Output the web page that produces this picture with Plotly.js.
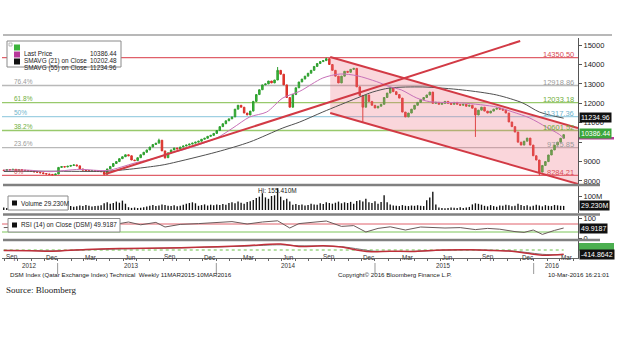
<!DOCTYPE html>
<html><head><meta charset="utf-8">
<script src="https://cdn.plot.ly/plotly-3.0.1.min.js"></script>
<style>html,body{margin:0;padding:0;background:#fff}#chart{width:620px;height:355px}</style>
</head><body><div id="chart"></div>
<script>
// ---------------- data ----------------
const firstWeek = Date.UTC(2012, 7, 30); // weekly bars, last one 10-Mar-2016
const openPx = [8560,8540,8590,8570,8600,8550,8580,8560,8540,8520,
 8500,8470,8450,8420,8380,8360,8340,8320,8360,8700,
 8740,8720,8760,8800,8830,8780,8620,8560,8540,8520,
 8530,8510,8500,8480,8350,8620,8750,8900,9000,9150,
 9250,9350,9300,9080,9050,9200,9350,9480,9600,9750,
 9880,9950,10100,9550,9200,9450,9600,9700,9650,9750,
 9800,9850,9900,9950,10000,10050,10150,10200,10300,10350,
 10450,10600,10800,10950,11100,11200,11300,11700,11900,11800,
 11500,11400,11600,12100,12450,12700,12950,13000,13150,13050,
 13200,13700,13500,12950,12300,11800,12450,12800,13100,13250,
 13400,13550,13700,13900,14050,14150,14200,14300,14000,13700,
 13400,13050,13400,13650,13600,13750,13800,12850,12400,11800,
 12430,12100,11900,11760,11850,11950,12300,12530,12790,12600,
 12450,12270,11550,11300,11500,11700,11900,12050,12200,12300,
 12430,12580,12000,12050,11950,12000,12100,12000,11950,12050,
 11950,11900,11950,11850,11900,11750,11400,11650,11800,11600,
 11500,11600,11700,11750,11700,11650,11500,11040,10800,10520,
 10000,9850,10050,10210,9850,9300,9080,8460,8800,9000,
 9340,9600,9850,10000,10200];
const closePx = [8540,8590,8570,8600,8550,8580,8560,8540,8520,8500,
 8470,8450,8420,8380,8360,8340,8320,8360,8700,8740,
 8720,8760,8800,8830,8780,8620,8560,8540,8520,8530,
 8510,8500,8480,8350,8620,8750,8900,9000,9150,9250,
 9350,9300,9080,9050,9200,9350,9480,9600,9750,9880,
 9950,10100,9550,9200,9450,9600,9700,9650,9750,9800,
 9850,9900,9950,10000,10050,10150,10200,10300,10350,10450,
 10600,10800,10950,11100,11200,11300,11700,11900,11800,11500,
 11400,11600,12100,12450,12700,12950,13000,13150,13050,13200,
 13700,13500,12950,12300,11800,12450,12800,13100,13250,13400,
 13550,13700,13900,14050,14150,14200,14300,14000,13700,13400,
 13050,13400,13650,13600,13750,13800,12850,12400,11800,12430,
 12100,11900,11760,11850,11950,12300,12530,12790,12600,12450,
 12270,11550,11300,11500,11700,11900,12050,12200,12300,12430,
 12580,12000,12050,11950,12000,12100,12000,11950,12050,11950,
 11900,11950,11850,11900,11750,11400,11650,11800,11600,11500,
 11600,11700,11750,11700,11650,11500,11040,10800,10520,10000,
 9850,10050,10210,9850,9300,9080,8460,8800,9000,9340,
 9600,9850,10000,10200,10386.44];
// notable wicks [week index, price]
const highWicks = [[90, 13870], [106, 14350.5], [51, 10180]];
const lowWicks = [[33, 8290], [53, 9150], [118, 11040], [155, 10270], [176, 8284.21]];
const volumeM = [18,14,20,16,22,17,19,15,21,
 18,16,20,22,17,19,24,18,20,26,
 22,25,30,28,24,26,32,28,35,30,
 25,28,30,34,48,55,45,50,60,52,
 67,45,20,15,18,14,16,20,25,30,
 35,28,32,40,36,30,28,34,26,30,
 38,45,50,55,48,30,35,40,32,38,
 34,40,36,42,38,50,55,48,60,52,
 45,58,62,72,85,95,120,90,80,100,
 105,155.41,95,70,80,60,38,42,35,40,
 32,36,45,40,38,48,42,55,50,45,
 52,60,48,55,50,58,45,65,70,60,
 80,55,50,62,45,58,105,55,40,32,
 30,28,35,30,28,32,30,34,30,28,
 70,90,130,40,18,15,12,14,18,16,
 14,20,15,17,22,40,48,44,38,30,
 26,35,28,24,32,30,38,34,26,30,
 45,36,28,34,25,30,38,32,26,35,
 30,28,36,33,30,29.23];
const sma21Dates = ["2012-08-30","2012-10-25","2012-12-14","2013-02-21","2013-04-25","2013-06-28","2013-08-24","2013-09-16","2013-10-16","2014-01-02","2014-02-08","2014-03-19","2014-04-27","2014-06-03","2014-07-12","2014-09-03","2014-10-13","2014-11-21","2015-01-05","2015-02-04","2015-03-03","2015-04-07","2015-05-07","2015-07-22","2015-10-08","2015-11-14","2015-12-23","2016-01-30","2016-02-29","2016-03-10"];
const sma21Values = [8560,8560,8480,8600,8540,8930,9240,9440,9600,10215,10730,11300,11554,12275,12620,13305,13510,13420,13115,12857,12687,12275,12085,12017,11810,11554,11245,10780,10400,10202.48];
const sma55Dates = ["2012-08-30","2012-12-14","2013-05-01","2013-08-24","2013-09-16","2014-01-02","2014-03-19","2014-06-03","2014-07-12","2014-09-03","2014-11-21","2014-12-27","2015-02-04","2015-04-21","2015-07-22","2015-10-08","2015-12-07","2016-01-14","2016-03-10"];
const sma55Values = [8490,8505,8515,8800,8900,9494,10009,10730,11039,11554,12275,12584,12790,12842,12687,12430,12017,11554,11234.96];
const rsiDates = ["2012-08-30","2012-10-04","2012-11-08","2012-12-13","2013-01-10","2013-02-14","2013-03-21","2013-04-25","2013-05-23","2013-06-13","2013-07-11","2013-08-15","2013-09-05","2013-10-10","2013-11-21","2013-12-26","2014-02-06","2014-03-13","2014-04-17","2014-05-22","2014-06-19","2014-07-10","2014-08-14","2014-09-11","2014-10-16","2014-11-13","2014-12-11","2015-01-08","2015-02-05","2015-03-12","2015-04-16","2015-05-14","2015-06-11","2015-07-16","2015-08-20","2015-09-17","2015-10-15","2015-11-19","2015-12-10","2015-12-31","2016-01-21","2016-02-18","2016-03-10"];
const rsiValues = [52,55,45,38,62,64,48,42,72,80,66,78,55,68,72,75,82,70,80,86,50,72,80,85,58,62,30,48,56,40,55,52,50,52,42,48,44,32,28,40,18,38,49.9187];
const macdDates = ["2012-08-30","2012-11-01","2012-12-20","2013-03-07","2013-06-06","2013-09-05","2013-12-05","2014-03-06","2014-05-29","2014-07-10","2014-09-04","2014-10-16","2014-11-27","2014-12-25","2015-02-05","2015-03-26","2015-06-04","2015-08-13","2015-10-01","2015-11-12","2015-12-17","2016-01-21","2016-03-10"];
const macdValues = [-50,-80,-120,60,150,200,300,420,600,350,420,300,-50,-180,-120,-150,0,20,-60,-120,-330,-520,-414.8642];
const signalValues = [-30,-60,-90,20,120,180,270,380,520,420,400,330,80,-100,-150,-140,-30,10,-30,-100,-250,-430,-480];
const fibLevels = [14350.50, 12918.86, 12033.18, 11317.36, 10601.52, 9715.85, 8284.21];
const fibValueText = ["14350.50","12918.86","12033.18","11317.36","10601.52","9715.85","8284.21"];
const fibPctText = ["", "76.4%", "61.8%", "50%", "38.2%", "23.6%", "0%"];
const trendDates = ["2013-04-21", "2015-12-01"];
const trendValues = [8361, 15210];
const channelDates = ["2014-09-20", "2016-04-12"];
const channelTop = [14386, 10730];
const channelBottom = [11502, 7846];
const priceTicks = [8000, 9000, 10000, 11000, 12000, 13000, 14000, 15000];
const priceTickText = ["8000", "9000", "", "11000", "12000", "13000", "14000", "15000"]; // 10000 is hidden under the value boxes
const monthLabels = ["Sep","Dec","Mar","Jun","Sep","Dec","Mar","Jun","Sep","Dec","Mar","Jun","Sep","Dec","Mar"];
const monthTickDates = ["2012-09-17","2012-12-17","2013-03-17","2013-06-17","2013-09-17","2013-12-17","2014-03-17","2014-06-17","2014-09-17","2014-12-17","2015-03-17","2015-06-17","2015-09-17","2015-12-17","2016-03-17"];
const yearLabels = ["2012","2013","2014","2015","2016"];
const yearLabelAt = ["2012-10-29","2013-06-19","2014-06-15","2015-06-08","2016-02-14"];
const yearStarts = ["2013-01-01","2014-01-01","2015-01-01","2016-01-01"];
const lastPrice = 10386.44, sma21Last = 10202.48, sma55Last = 11234.96;
const volumeLast = 29.23, rsiLast = 49.9187, macdLast = -414.8642, volumeHigh = 155.41;

// ---------------- styling / geometry ----------------
const W = 620, H = 355;
const px = x => x / W, py = y => 1 - y / H;
const FONT = "Liberation Sans, Arial, sans-serif";
const fibColors = ["#e0606a","#b9b9b9","#98c96c","#9fd0e2","#98c96c","#b9b9b9","#e0606a"];
const fibTextColors = ["#d84a55","#9a9a9a","#6fae3c","#6fb4cc","#6fae3c","#9a9a9a","#d84a55"];
const RED = "#d23a45";

const weeks = openPx.map((_, i) => new Date(firstWeek + i * 7 * 864e5).toISOString().slice(0, 10));
const highPx = openPx.map((o, i) => Math.max(o, closePx[i]));
const lowPx = openPx.map((o, i) => Math.min(o, closePx[i]));
highWicks.forEach(([i, v]) => highPx[i] = v);
lowWicks.forEach(([i, v]) => lowPx[i] = v);

const traces = [
  {type:'scatter', mode:'lines', x:[channelDates[0], channelDates[1], channelDates[1], channelDates[0]],
   y:[channelTop[0], channelTop[1], channelBottom[1], channelBottom[0]], fill:'toself',
   fillcolor:'rgba(240,120,135,0.30)', line:{width:0}, xaxis:'x', yaxis:'y', hoverinfo:'skip'},
  {type:'scatter', mode:'lines', x:sma55Dates, y:sma55Values, line:{color:'#505050', width:1, shape:'spline', smoothing:0.8}, xaxis:'x', yaxis:'y'},
  {type:'scatter', mode:'lines', x:sma21Dates, y:sma21Values, line:{color:'#c770b8', width:1, shape:'spline', smoothing:0.8}, xaxis:'x', yaxis:'y'},
  {type:'candlestick', x:weeks, open:openPx, high:highPx, low:lowPx, close:closePx, xaxis:'x', yaxis:'y',
   increasing:{line:{color:'#2e9e2e', width:1}, fillcolor:'#3cbf3c'},
   decreasing:{line:{color:'#d8302a', width:1}, fillcolor:'#e8392f'}, whiskerwidth:0, hoverinfo:'skip'},
  {type:'scatter', mode:'lines', x:trendDates, y:trendValues, line:{color:RED, width:2}, xaxis:'x', yaxis:'y'},
  {type:'scatter', mode:'lines', x:channelDates, y:channelTop, line:{color:RED, width:2}, xaxis:'x', yaxis:'y'},
  {type:'scatter', mode:'lines', x:channelDates, y:channelBottom, line:{color:RED, width:2}, xaxis:'x', yaxis:'y'},
  {type:'bar', x:weeks, y:volumeM, xaxis:'x', yaxis:'y2', marker:{color:'#111'}, width:7*864e5*0.45},
  {type:'scatter', mode:'lines', x:rsiDates, y:rsiValues, line:{color:'#6a5a5a', width:1}, xaxis:'x', yaxis:'y3'},
  {type:'scatter', mode:'lines', x:[weeks[0], weeks[weeks.length-1]], y:[0,0], line:{color:'#6cc04a', width:1, dash:'dot'}, xaxis:'x', yaxis:'y4'},
  {type:'scatter', mode:'lines', x:macdDates, y:signalValues, line:{color:'#777', width:1, shape:'spline'}, xaxis:'x', yaxis:'y4'},
  {type:'scatter', mode:'lines', x:macdDates, y:macdValues, line:{color:'#c0303a', width:1.5, shape:'spline'}, xaxis:'x', yaxis:'y4'}
];

const shapes = [];
fibLevels.forEach((v, i) => shapes.push({type:'line', xref:'paper', yref:'y', x0:px(2), x1:px(578), y0:v, y1:v, line:{color:fibColors[i], width:1.3}, layer:'below'}));
// RSI 70 / 30 lines
shapes.push({type:'line', xref:'paper', yref:'y3', x0:px(2), x1:px(578), y0:70, y1:70, line:{color:'#e0606a', width:1}, layer:'below'});
shapes.push({type:'line', xref:'paper', yref:'y3', x0:px(2), x1:px(578), y0:30, y1:30, line:{color:'#7cc65a', width:1}, layer:'below'});
// panel separators
shapes.push({type:'line', xref:'paper', yref:'paper', x0:px(3), x1:px(612), y0:py(35), y1:py(35), line:{color:'#a0a0a0', width:1.5}});
[185, 214.5, 240].forEach(y => shapes.push({type:'line', xref:'paper', yref:'paper', x0:px(3), x1:px(600), y0:py(y), y1:py(y), line:{color:'#808080', width:2.5}}));
// year separators under the axis
yearStarts.forEach(d => shapes.push({type:'line', xref:'x', yref:'paper', x0:d, x1:d, y0:py(263), y1:py(274), line:{color:'#999', width:1}}));
// legend boxes
shapes.push({type:'rect', xref:'paper', yref:'paper', x0:px(7), x1:px(121), y0:py(41), y1:py(67), fillcolor:'#fff', line:{color:'#8a8a8a', width:1}, layer:'above'});
shapes.push({type:'rect', xref:'paper', yref:'paper', x0:px(9), x1:px(12), y0:py(43), y1:py(46), fillcolor:'#fff', line:{color:'#aaa', width:0.8}, layer:'above'});
[['#3cb43c',47.5],['#b8389a',54.5],['#111',61.5]].forEach(([c,y]) => shapes.push({type:'rect', xref:'paper', yref:'paper', x0:px(14), x1:px(20), y0:py(y+3), y1:py(y-3), fillcolor:c, line:{width:0}, layer:'above'}));
shapes.push({type:'rect', xref:'paper', yref:'paper', x0:px(8), x1:px(68), y0:py(196), y1:py(210), fillcolor:'#fff', line:{color:'#8a8a8a', width:1}, layer:'above'});
shapes.push({type:'rect', xref:'paper', yref:'paper', x0:px(12), x1:px(17), y0:py(200.5), y1:py(205.5), fillcolor:'#111', line:{width:0}, layer:'above'});
shapes.push({type:'rect', xref:'paper', yref:'paper', x0:px(8), x1:px(120), y0:py(218.5), y1:py(232), fillcolor:'#fff', line:{color:'#8a8a8a', width:1}, layer:'above'});
shapes.push({type:'rect', xref:'paper', yref:'paper', x0:px(12), x1:px(17), y0:py(222.5), y1:py(227.5), fillcolor:'#111', line:{width:0}, layer:'above'});
// green MACD value box (text not legible)
shapes.push({type:'rect', xref:'paper', yref:'paper', x0:px(579), x1:px(614), y0:py(243), y1:py(250.5), fillcolor:'#4caf50', line:{width:0}, layer:'above'});
// magenta SMAVG(21) value marker: a strip peeking out under the green last-price box
shapes.push({type:'rect', xref:'paper', yref:'y', x0:px(579), x1:px(614), y0:sma21Last - 60, y1:sma21Last + 60, fillcolor:'#b8389a', line:{width:0}, layer:'above'});

const ann = [];
const base = {showarrow:false, font:{family:FONT, size:7, color:'#222'}};
function add(o){ ann.push(Object.assign({}, base, o, {font:Object.assign({}, base.font, o.font||{})})); }
// fib labels
fibLevels.forEach((v, i) => {
  add({xref:'paper', yref:'y', x:px(576), y:v, xanchor:'right', yanchor:'middle', yshift:3, text:fibValueText[i], font:{size:7.5, color:fibTextColors[i]}});
  if (fibPctText[i]) add({xref:'paper', yref:'y', x:px(12), y:v, xanchor:'left', yanchor:'middle', yshift:4, text:fibPctText[i], font:{size:6.5, color:fibTextColors[i]}});
});
// legend texts
const legFont = {size:6.4};
add({xref:'paper', yref:'paper', x:px(22), y:py(47.5), xanchor:'left', text:'Last Price', font:legFont});
add({xref:'paper', yref:'paper', x:px(22), y:py(54.5), xanchor:'left', text:'SMAVG (21) on Close', font:legFont});
add({xref:'paper', yref:'paper', x:px(22), y:py(61.5), xanchor:'left', text:'SMAVG (55) on Close', font:legFont});
add({xref:'paper', yref:'paper', x:px(119), y:py(47.5), xanchor:'right', text:lastPrice.toFixed(2), font:legFont});
add({xref:'paper', yref:'paper', x:px(119), y:py(54.5), xanchor:'right', text:sma21Last.toFixed(2), font:legFont});
add({xref:'paper', yref:'paper', x:px(119), y:py(61.5), xanchor:'right', text:sma55Last.toFixed(2), font:legFont});
add({xref:'paper', yref:'paper', x:px(19), y:py(203), xanchor:'left', text:'Volume ' + volumeLast.toFixed(3) + 'M', font:legFont});
add({xref:'paper', yref:'paper', x:px(19), y:py(225.3), xanchor:'left', text:'RSI (14) on Close (DSM) ' + rsiLast, font:legFont});
add({xref:'x', yref:'paper', x:weeks[volumeM.indexOf(volumeHigh)], y:py(191), xanchor:'center', text:'Hi: ' + volumeHigh.toFixed(3) + 'M', font:{size:6.5}});
// right value boxes
const box = (yref, v, text, bg, shift) => add({xref:'paper', yref, x:px(579), y:v, xanchor:'left', yanchor:'middle', yshift:shift||0, text, bgcolor:bg, borderpad:1, font:{size:7, color:'#fff'}});
box('y', lastPrice, lastPrice.toFixed(2), '#3aa53a', 1);
box('y', sma55Last, sma55Last.toFixed(2), '#111', 1);
box('y2', volumeLast, volumeLast.toFixed(3) + 'M', '#111');
box('y3', rsiLast, String(rsiLast), '#111');
box('y4', macdLast, String(macdLast), '#111');
// month and year labels under the axis
monthLabels.forEach((t, i) => add({xref:'x', yref:'paper', x:monthTickDates[i], y:py(262.5), xanchor:'center', text:t, font:{size:6.3, color:'#333'}}));
yearLabels.forEach((t, i) => add({xref:'x', yref:'paper', x:yearLabelAt[i], y:py(270.5), xanchor:'center', text:t, font:{size:6.3, color:'#333'}}));
// footer
add({xref:'paper', yref:'paper', x:px(8), y:py(280), xanchor:'left', text:'DSM Index (Qatar Exchange Index) Technical  Weekly 11MAR2015-10MAR2016', font:{size:6.2}});
add({xref:'paper', yref:'paper', x:px(336), y:py(280), xanchor:'left', text:'Copyright© 2016 Bloomberg Finance L.P.', font:{size:6.2}});
add({xref:'paper', yref:'paper', x:px(612), y:py(280), xanchor:'right', text:'10-Mar-2016 16:21:01', font:{size:6.2}});
add({xref:'paper', yref:'paper', x:px(4), y:py(297), xanchor:'left', text:'Source: Bloomberg', font:{family:'Liberation Serif, DejaVu Serif, serif', size:9, color:'#1a1a1a'}});

const yBase = {side:'right', anchor:'x', showline:true, linecolor:'#555', linewidth:1, ticks:'outside', ticklen:3, tickcolor:'#555',
  showgrid:false, zeroline:false, tickfont:{family:FONT, size:7.5, color:'#222'}, fixedrange:true};
const layout = {
  width:W, height:H, margin:{l:0, r:0, t:0, b:0}, paper_bgcolor:'#fff', plot_bgcolor:'rgba(0,0,0,0)',
  showlegend:false, font:{family:FONT},
  xaxis:{domain:[px(2), px(578)], range:['2012-08-26','2016-04-12'], type:'date', anchor:'y4', tickmode:'array',
    tickvals:monthTickDates, ticktext:monthLabels, showticklabels:false, ticks:'', showline:true, linecolor:'#666', linewidth:1.5,
    showgrid:false, zeroline:false, rangeslider:{visible:false},
    minor:{tickmode:'linear', tick0:'2012-09-01', dtick:'M1', ticks:'outside', ticklen:2, tickcolor:'#666', showgrid:false}},
  yaxis:Object.assign({}, yBase, {domain:[py(184), py(38)], range:[7845, 15365], tickmode:'array', tickvals:priceTicks, ticktext:priceTickText}),
  yaxis2:Object.assign({}, yBase, {domain:[py(213), py(186)], range:[-21.4, 171.4], tickvals:[100], ticktext:['100M']}),
  yaxis3:Object.assign({}, yBase, {domain:[py(239.5), py(215.5)], range:[-7.5, 112.5], tickvals:[0, 100], ticktext:['0','100']}),
  yaxis4:Object.assign({}, yBase, {domain:[py(257.5), py(241)], range:[-750, 900], showticklabels:false, ticks:''}),
  shapes, annotations:ann
};
Plotly.newPlot('chart', traces, layout, {staticPlot:true, displayModeBar:false});
</script>
</body></html>
